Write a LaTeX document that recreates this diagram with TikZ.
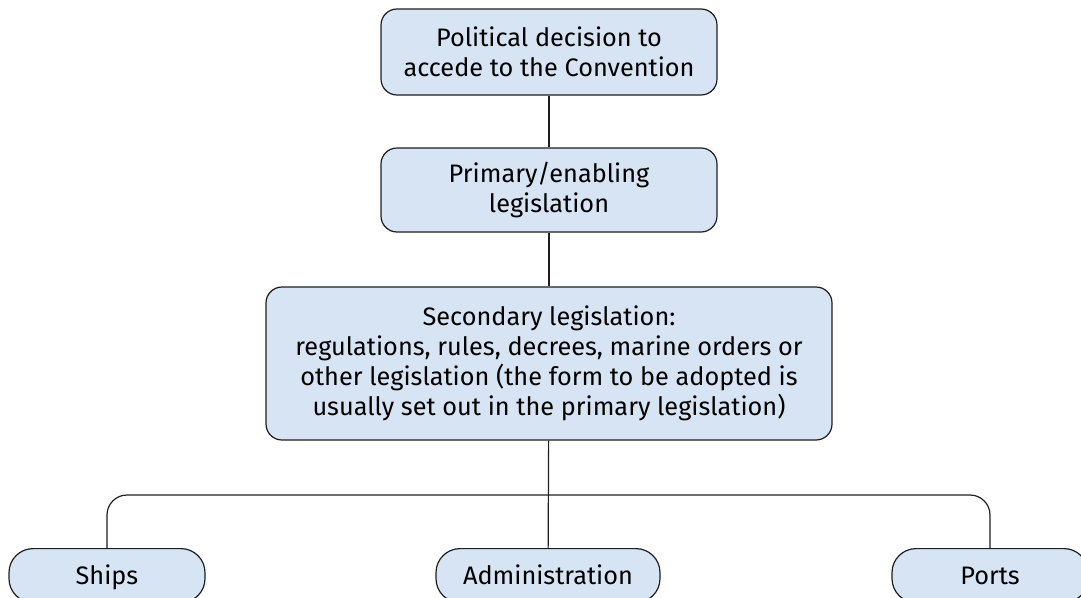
\documentclass[tikz,border=0pt]{standalone}
\usepackage{fontspec}
\setmainfont{Fira Sans}
\usetikzlibrary{calc}
\usetikzlibrary{positioning}

\definecolor{boxfill}{RGB}{214,228,244}
\definecolor{boxline}{RGB}{30,30,30}

\begin{document}
\begin{tikzpicture}[x=1pt, y=-1pt,
    stage/.style={rectangle, rounded corners=16pt, draw=boxline, line width=1.2pt, fill=boxfill,
        align=center, inner sep=0pt, font=\fontsize{25.3}{30}\selectfont},
    leaf/.style={stage, rounded corners=24pt, minimum width=196pt, minimum height=54pt,
        text height=21pt, text depth=4pt},
    link/.style={draw=boxline, line width=1.2pt}]
    \clip (0,0) rectangle (1081,597);
    \useasboundingbox (0,0) rectangle (1081,597);
    % chain of legislation
    \node[stage, minimum width=336pt, minimum height=86pt] (decision) at (549,52) {Political decision to\\accede to the Convention};
    \node[stage, minimum width=336pt, minimum height=84pt] (primary) at (549,190) {Primary/enabling\\legislation};
    \node[stage, minimum width=566pt, minimum height=153pt] (secondary) at (549,363.5) {Secondary legislation:\\regulations, rules, decrees, marine orders or\\other legislation (the form to be adopted is\\usually set out in the primary legislation)};
    % branches
    \node[leaf, anchor=north] (ships) at (107,548) {Ships};
    \node[leaf, anchor=north, minimum width=224pt] (admin) at (548,548) {Administration};
    \node[leaf, anchor=north] (ports) at (990,548) {Ports};
    \coordinate (fork) at (549,495);
    \draw[link] (decision) -- (primary);
    \draw[link] (primary) -- (secondary);
    \draw[link] (secondary) -- (admin);
    \draw[link, rounded corners=20pt] (ships.north) |- (fork) -| (ports.north);
\end{tikzpicture}
\end{document}
